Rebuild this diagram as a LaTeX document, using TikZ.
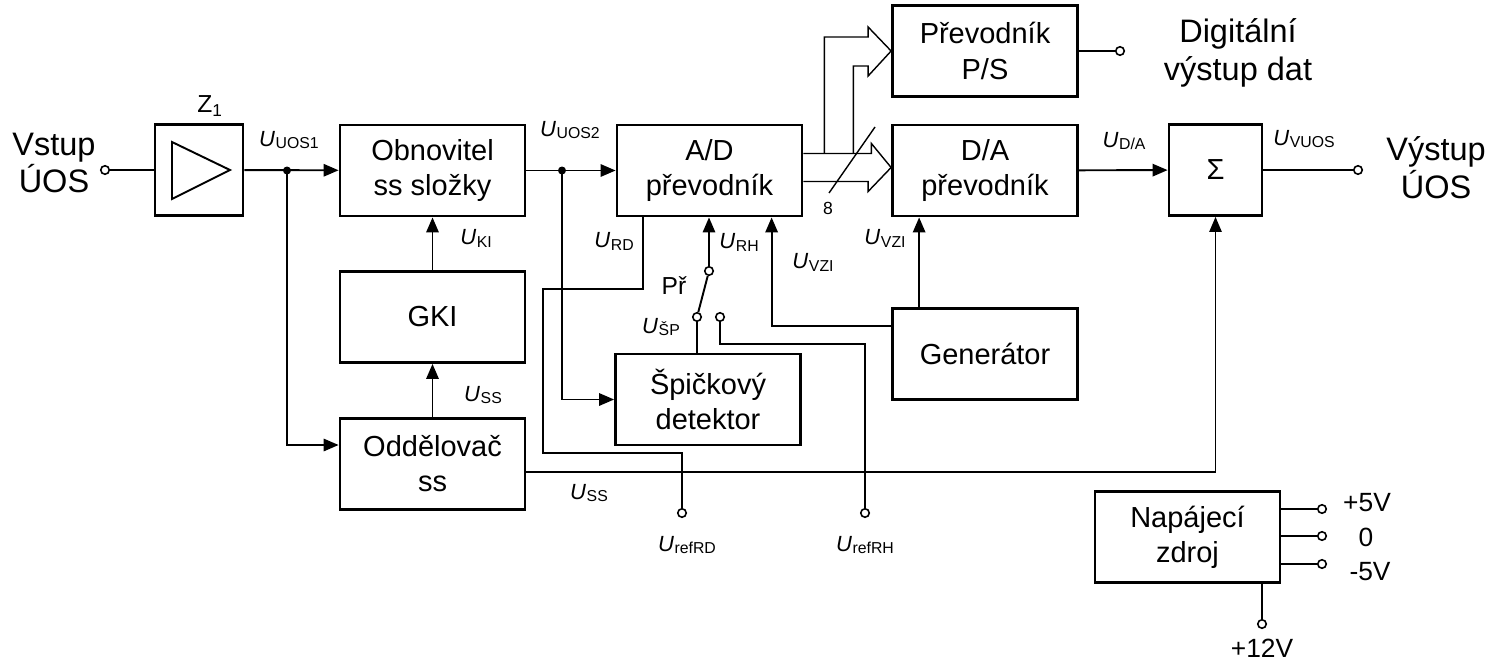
\documentclass[tikz,border=0pt]{standalone}
\usepackage{fontspec}
\setmainfont{Liberation Sans}
\usetikzlibrary{arrows.meta,calc}
\newcommand{\uu}[1]{\textit{U}\kern0.3pt\raisebox{-0.25ex}{\fontsize{9}{9}\selectfont #1}}

\begin{document}
\begin{tikzpicture}[x=0.02cm, y=-0.02cm,
	blok/.style={draw, line width=1.6pt, minimum width=3.7cm, minimum height=1.82cm, align=center, font=\fontsize{16.5}{20}\selectfont},
	term/.style={draw, circle, line width=0.9pt, fill=white, inner sep=0pt, minimum size=0.17cm},
	sig/.style={line width=1.1pt},
	tenka/.style={line width=0.8pt},
	sip/.style={sig, -{Triangle[length=8.5pt,width=7pt]}},
	popis/.style={font=\fontsize{12.5}{15}\selectfont, inner sep=0pt},
	velky/.style={align=center, font=\fontsize{18.5}{21.5}\selectfont, inner sep=0pt},
	zdroj/.style={font=\fontsize{15}{15}\selectfont, inner sep=0pt}]
	\useasboundingbox (0,0) rectangle (1506,669);

	\node[blok, minimum width=1.76cm] (z1) at (199,170) {};
	\draw[sig] (172,142) -- (172,199) -- (230,170) -- cycle;
	\node[font=\fontsize{14}{14}\selectfont, inner sep=0pt] (z1t) at (210,106) {Z\textsubscript{1}};
	\node[blok] (obn) at (432.5,170.5) {Obnovitel\\ss složky};
	\node[blok] (gki) at (432.5,317) {GKI};
	\node[blok] (odd) at (432.5,464) {Oddělovač\\ss};
	\node[blok] (ad) at (709.5,170.5) {A/D\\převodník};
	\node[blok] (spd) at (708,399.5) {Špičkový\\detektor};
	\node[blok] (ps) at (985,51) {Převodník\\P/S};
	\node[blok] (da) at (985,170.5) {D/A\\převodník};
	\node[blok] (gen) at (985,354) {Generátor};
	\node[blok, minimum width=1.86cm] (sum) at (1215.5,170) {Σ};
	\node[blok] (nap) at (1187.5,537) {Napájecí\\zdroj};

	\node[term] (vst) at (105,170) {};
	\node[term] (vyst) at (1358,170) {};
	\node[term] (dig) at (1120,51) {};
	\node[term] (refrd) at (682,513) {};
	\node[term] (refrh) at (865,513) {};
	\node[term] (sw1) at (709,271) {};
	\node[term] (sw2) at (697,317) {};
	\node[term] (sw3) at (720,317) {};
	\node[term] (p5) at (1322,509) {};
	\node[term] (p0) at (1322,536) {};
	\node[term] (m5) at (1322,564) {};
	\node[term] (p12) at (1262,624) {};
	\coordinate (j1) at (287,170.5);
	\coordinate (j2) at (562,170.5);

	\draw[sig] (vst) -- (z1);
	\draw[sip] (z1) -- (obn);
	\draw[sip] (j1) |- ($(odd.west)+(0,-19)$);
	\draw[sip] (gki) -- (obn);
	\draw[sip] (odd) -- (gki);
	\draw[sip] (obn) -- (ad);
	\draw[sip] (j2) |- (spd.west);
	\fill (j1) circle (0.08cm);
	\fill (j2) circle (0.08cm);

	\draw[sig] ($(ad.south west)+(27,0)$) |- (543,289) |- (682,453) -- (refrd);
	\draw[sip] (sw1) -- (sw1 |- ad.south);
	\draw[sig] (sw1) -- (sw2);
	\draw[sig] (sw2) -- (sw2 |- spd.north);
	\draw[sig] (sw3) |- (865,344) -- (refrh);
	\draw[sip] ($(gen.north west)+(0,19)$) -| ($(ad.south west)+(156,0)$);
	\draw[sip] ($(gen.north west)+(28,0)$) -- ($(da.south west)+(28,0)$);

	\draw[tenka] ($(ad.east)+(0,-17)$) -- ++(68,0) -- ++(0,-10) -- ($(da.west)+(0,-3)$) -- ++(-23,24) -- ++(0,-10) -- ($(ad.east)+(0,11)$);
	\draw[tenka] ($(ad.east)+(21,-17)$) |- ($(ps.west)+(-23,-14)$) -- ++(0,-10) -- (ps.west) -- ++(-23,25) -- ++(0,-10) -| ($(ad.east)+(50,-17)$);
	\draw[tenka] (875,127) -- (829,193);
	\node[font=\fontsize{10}{10}\selectfont, inner sep=0pt] (osm) at (828,208) {8};

	\draw[sig] (ps) -- (dig);
	\draw[sip] (da) -- (sum);
	\draw[sig] (sum) -- (vyst);
	\draw[tenka, -{Triangle[length=8.5pt,width=7pt]}] ($(odd.east)+(0,8)$) -| (sum.south);
	\draw[sig] (nap.east |- p5) -- (p5);
	\draw[sig] (nap.east |- p0) -- (p0);
	\draw[sig] (nap.east |- m5) -- (m5);
	\draw[sig] (p12 |- nap.south) -- (p12);

	\node[velky] (vstl) at (54,163) {Vstup\\ÚOS};
	\node[velky] (vystl) at (1436,168) {Výstup\\ÚOS};
	\node[velky] (digl) at (1238,53) {Digitální\\výstup dat};
	\node[popis] (uos1) at (289,140) {\uu{UOS1}};
	\node[popis] (uos2) at (570,130) {\uu{UOS2}};
	\node[popis] (uki) at (476,238) {\uu{KI}};
	\node[popis] (uss) at (483,395) {\uu{SS}};
	\node[popis] (urd) at (614,241) {\uu{RD}};
	\node[popis] (urh) at (739,242) {\uu{RH}};
	\node[popis] (uvzi) at (813,262) {\uu{VZI}};
	\node[popis] (uvzi2) at (885,238) {\uu{VZI}};
	\node[font=\fontsize{14}{14}\selectfont, inner sep=0pt] (pr) at (674,286) {Př};
	\node[popis] (usp) at (661,327) {\uu{ŠP}};
	\node[popis] (uss2) at (589,493) {\uu{SS}};
	\node[popis] (urefrd) at (687,545) {\uu{refRD}};
	\node[popis] (urefrh) at (865,545) {\uu{refRH}};
	\node[popis] (uda) at (1124,141) {\uu{D/A}};
	\node[popis] (uvuos) at (1304,139) {\uu{VUOS}};
	\node[zdroj] (l5) at (1367,503) {+5V};
	\node[zdroj] (l0) at (1366,537) {0};
	\node[zdroj] (lm5) at (1370,572) {-5V};
	\node[zdroj] (l12) at (1262,648) {+12V};
\end{tikzpicture}
\end{document}
